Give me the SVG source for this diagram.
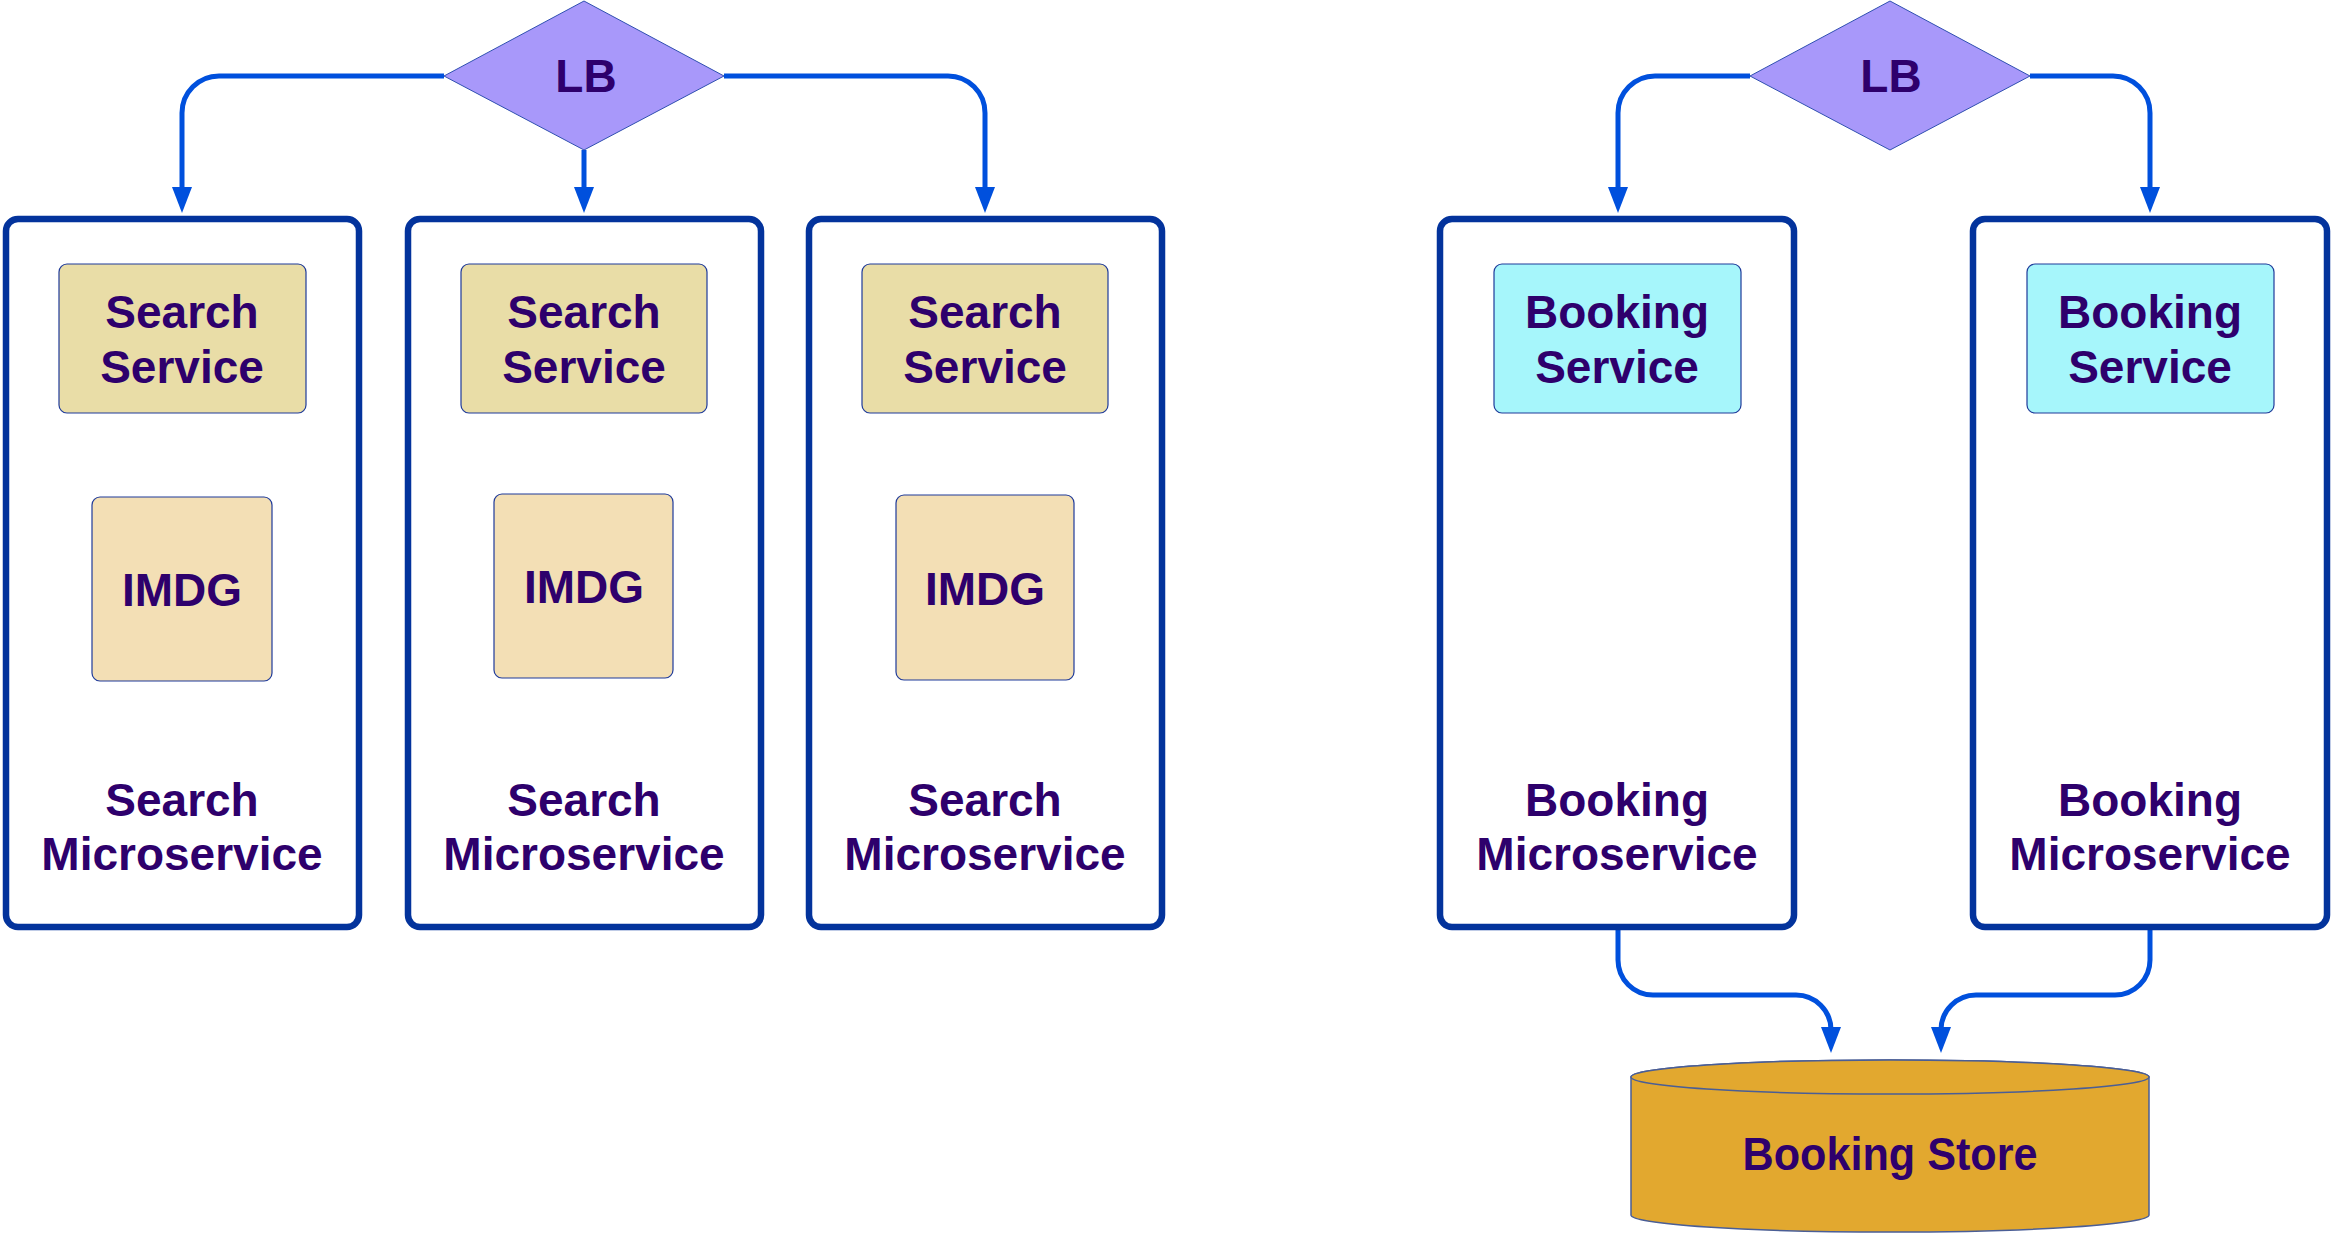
<svg xmlns="http://www.w3.org/2000/svg" width="2333" height="1233" viewBox="0 0 2333 1233">
<defs>
<style>
.ms{fill:#fff;stroke:#03339C;stroke-width:6.5}
.lb{fill:#A898FA;stroke:#2F4FB0;stroke-width:1}
.ss{fill:#E9DDA7;stroke:#1E3A9A;stroke-width:1.2}
.im{fill:#F3DFB5;stroke:#1E3A9A;stroke-width:1.2}
.bs{fill:#A6F6FB;stroke:#1E3A9A;stroke-width:1.2}
.db{fill:#E2A82F;stroke:#4A5E96;stroke-width:1.5}
text{font-family:"Liberation Sans",Arial,sans-serif;font-weight:bold;font-size:46px;fill:#2E006C;text-anchor:middle}
.cn{fill:none;stroke:#0050DD;stroke-width:5}
</style>
<marker id="ah" markerUnits="userSpaceOnUse" markerWidth="26" markerHeight="20" viewBox="0 0 26 20" refX="16" refY="10" orient="auto">
<path d="M0,0 L26,10 L0,20 Z" fill="#0050DD"/>
</marker>
</defs>
<rect width="2333" height="1233" fill="#fff"/>
<g id="connectors">
<path class="cn" marker-end="url(#ah)" d="M444,76 H219 A37,37 0 0 0 182,113 V203"/>
<path class="cn" marker-end="url(#ah)" d="M584,150 V203"/>
<path class="cn" marker-end="url(#ah)" d="M724,76 H948 A37,37 0 0 1 985,113 V203"/>
<path class="cn" marker-end="url(#ah)" d="M1750,76 H1655 A37,37 0 0 0 1618,113 V203"/>
<path class="cn" marker-end="url(#ah)" d="M2030,76 H2113 A37,37 0 0 1 2150,113 V203"/>
<path class="cn" marker-end="url(#ah)" d="M1618,930 V960 A35,35 0 0 0 1653,995 H1796 A35,35 0 0 1 1831,1030 V1043"/>
<path class="cn" marker-end="url(#ah)" d="M2150,930 V960 A35,35 0 0 1 2115,995 H1976 A35,35 0 0 0 1941,1030 V1043"/>
</g>
<g id="lb1"><path class="lb" d="M584,1 L724,76 L584,150 L444,76 Z"/><text x="586" y="92">LB</text></g>
<g id="lb2"><path class="lb" d="M1890,1 L2030,76 L1890,150 L1750,76 Z"/><text x="1891" y="92">LB</text></g>
<g id="search1">
<rect class="ms" x="6" y="219" width="353" height="708" rx="12"/>
<rect class="ss" x="59" y="264" width="247" height="149" rx="8"/>
<text x="182" y="328">Search</text><text x="182" y="383">Service</text>
<rect class="im" x="92" y="497" width="180" height="184" rx="8"/>
<text x="182" y="606">IMDG</text>
<text x="182" y="816">Search</text><text x="182" y="870">Microservice</text>
</g>
<g id="search2">
<rect class="ms" x="408" y="219" width="353" height="708" rx="12"/>
<rect class="ss" x="461" y="264" width="246" height="149" rx="8"/>
<text x="584" y="328">Search</text><text x="584" y="383">Service</text>
<rect class="im" x="494" y="494" width="179" height="184" rx="8"/>
<text x="584" y="603">IMDG</text>
<text x="584" y="816">Search</text><text x="584" y="870">Microservice</text>
</g>
<g id="search3">
<rect class="ms" x="809" y="219" width="353" height="708" rx="12"/>
<rect class="ss" x="862" y="264" width="246" height="149" rx="8"/>
<text x="985" y="328">Search</text><text x="985" y="383">Service</text>
<rect class="im" x="896" y="495" width="178" height="185" rx="8"/>
<text x="985" y="605">IMDG</text>
<text x="985" y="816">Search</text><text x="985" y="870">Microservice</text>
</g>
<g id="booking1">
<rect class="ms" x="1440" y="219" width="354" height="708" rx="12"/>
<rect class="bs" x="1494" y="264" width="247" height="149" rx="8"/>
<text x="1617" y="328">Booking</text><text x="1617" y="383">Service</text>
<text x="1617" y="816">Booking</text><text x="1617" y="870">Microservice</text>
</g>
<g id="booking2">
<rect class="ms" x="1973" y="219" width="354" height="708" rx="12"/>
<rect class="bs" x="2027" y="264" width="247" height="149" rx="8"/>
<text x="2150" y="328">Booking</text><text x="2150" y="383">Service</text>
<text x="2150" y="816">Booking</text><text x="2150" y="870">Microservice</text>
</g>
<g id="store">
<path class="db" d="M1631,1077 V1215 A259,17 0 0 0 2149,1215 V1077 A259,17 0 0 0 1631,1077 Z"/>
<ellipse class="db" cx="1890" cy="1077" rx="259" ry="17"/>
<text x="1890" y="1170" textLength="295" lengthAdjust="spacingAndGlyphs">Booking Store</text>
</g>
</svg>
